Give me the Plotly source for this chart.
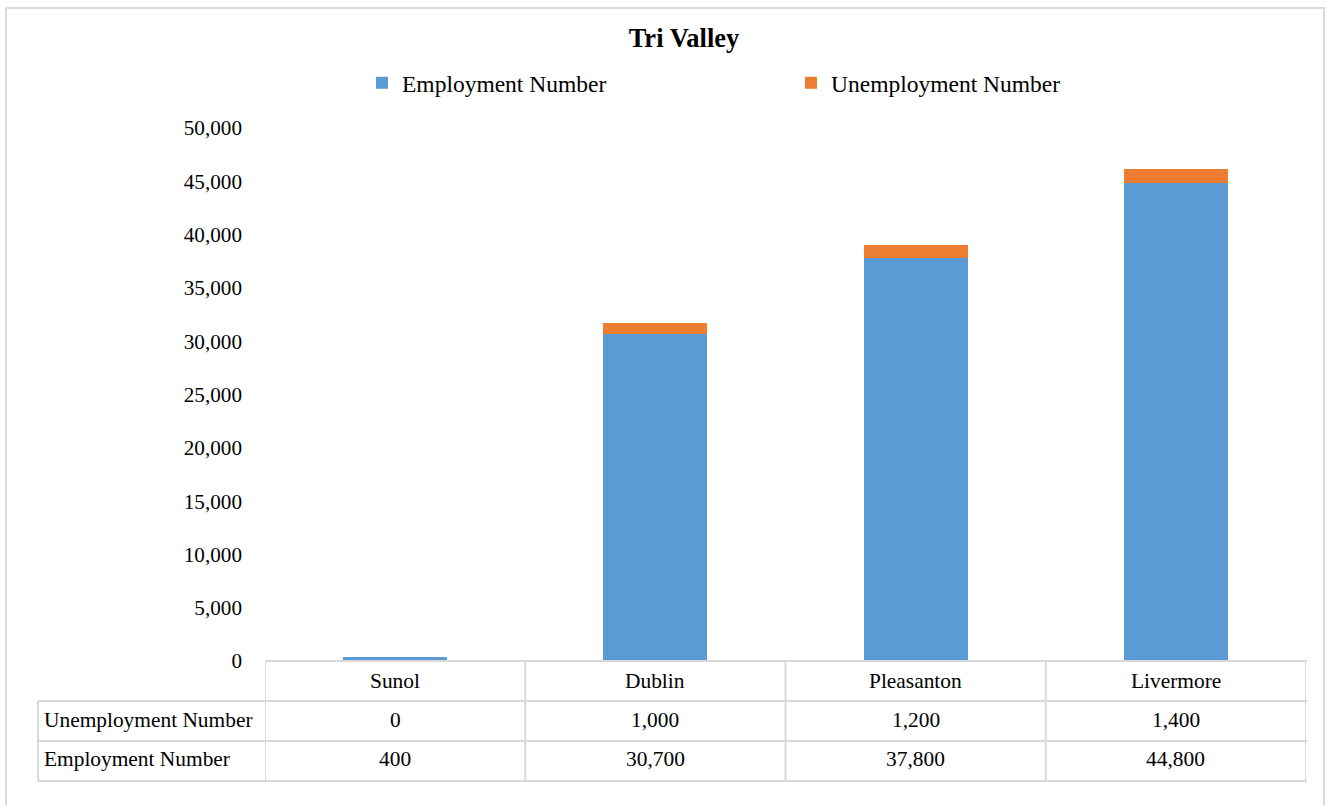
import plotly.graph_objects as go

categories = ["Sunol", "Dublin", "Pleasanton", "Livermore"]
employment = [400, 30700, 37800, 44800]
unemployment = [0, 1000, 1200, 1400]
y_ticks = [0, 5000, 10000, 15000, 20000, 25000, 30000, 35000, 40000, 45000, 50000]
row_labels = ["Unemployment Number", "Employment Number"]

BLUE = "#5B9BD5"
ORANGE = "#ED7D31"
GRID = "#D9D9D9"
FONT = "Liberation Serif"

W, H = 1332, 805
L, R, T, B = 265, 26, 128, 144
PW = W - L - R
PH = H - T - B


def px_x(x):
    return (x - L) / PW


def px_y(y):
    return (H - B - y) / PH


fig = go.Figure()
fig.add_trace(go.Bar(x=categories, y=employment, name="Employment Number",
                     marker=dict(color=BLUE, line=dict(width=0))))
fig.add_trace(go.Bar(x=categories, y=unemployment, name="Unemployment Number",
                     marker=dict(color=ORANGE, line=dict(width=0))))

shapes = []
line = dict(color=GRID, width=2)
# outer chart border
shapes.append(dict(type="rect", xref="paper", yref="paper",
                   x0=px_x(6), x1=px_x(1324), y0=px_y(806), y1=px_y(8),
                   line=dict(color=GRID, width=2), layer="below"))
# table horizontal lines
rows_y = [661, 701, 741, 781]
for i, yy in enumerate(rows_y):
    x0 = px_x(265) if i == 0 else px_x(38)
    shapes.append(dict(type="line", xref="paper", yref="paper",
                       x0=x0, x1=px_x(1307), y0=px_y(yy), y1=px_y(yy), line=line))
# vertical lines
shapes.append(dict(type="line", xref="paper", yref="paper",
                   x0=px_x(38), x1=px_x(38), y0=px_y(701), y1=px_y(781), line=line))
for k in range(len(categories) + 1):
    shapes.append(dict(type="line", xref="x", yref="paper",
                       x0=k - 0.5, x1=k - 0.5, y0=px_y(661), y1=px_y(781), line=line))

annotations = []
tfont = dict(family=FONT, size=21.4, color="#000000")
for i, c in enumerate(categories):
    annotations.append(dict(x=c, xref="x", y=px_y(681), yref="paper", text=c,
                            showarrow=False, font=tfont, xanchor="center", yanchor="middle"))
    annotations.append(dict(x=c, xref="x", y=px_y(720), yref="paper", text=f"{unemployment[i]:,}",
                            showarrow=False, font=tfont, xanchor="center", yanchor="middle"))
    annotations.append(dict(x=c, xref="x", y=px_y(759), yref="paper", text=f"{employment[i]:,}",
                            showarrow=False, font=tfont, xanchor="center", yanchor="middle"))
for lbl, yy in zip(row_labels, [720, 759]):
    annotations.append(dict(x=px_x(42), xref="paper", y=px_y(yy), yref="paper", text=lbl,
                            showarrow=False, font=tfont, xanchor="left", yanchor="middle"))

fig.update_layout(
    width=W, height=H,
    margin=dict(l=L, r=R, t=T, b=B, autoexpand=False),
    paper_bgcolor="white", plot_bgcolor="white",
    barmode="stack", bargap=0.6,
    font=dict(family=FONT, size=21, color="#000000"),
    title=dict(text="<b>Tri Valley</b>", x=684 / W, xanchor="center",
               y=1 - 38 / H, yanchor="middle", yref="container",
               font=dict(family=FONT, size=26.5, color="#000000")),
    legend=dict(orientation="h", traceorder="normal",
                x=px_x(362), xanchor="left", y=px_y(83), yanchor="middle",
                font=dict(family=FONT, size=23.5, color="#000000"),
                entrywidth=384, entrywidthmode="pixels", itemwidth=30),
    xaxis=dict(showticklabels=False, showgrid=False, zeroline=False, showline=False,
               ticks="", range=[-0.5, 3.5], fixedrange=True),
    yaxis=dict(range=[0, 50000], tickvals=y_ticks, tickformat=",d",
               showgrid=False, zeroline=False, showline=False, ticks="",
               ticklabelstandoff=22, tickfont=dict(family=FONT, size=21.2, color="#000000")),
    shapes=shapes, annotations=annotations,
)

fig.write_html("out.html")
